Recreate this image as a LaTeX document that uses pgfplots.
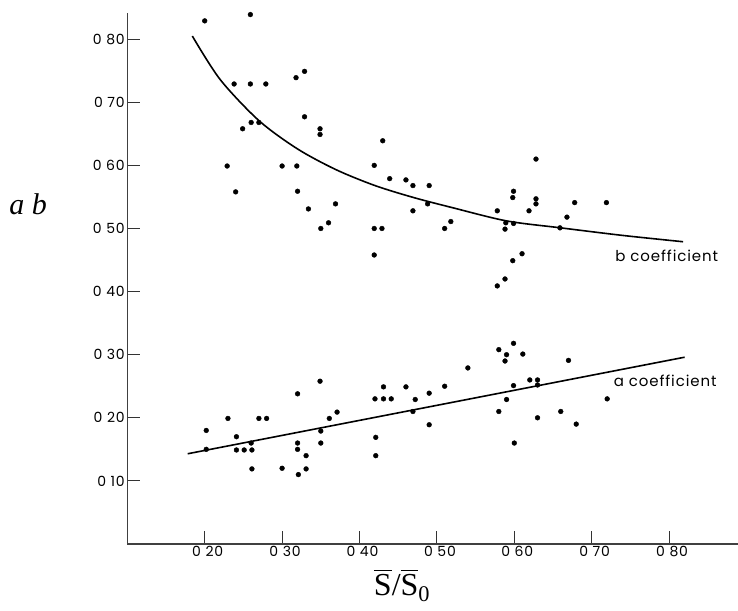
\documentclass[border=0pt]{standalone}
\usepackage{amsmath}
\usepackage{fontspec}
\setmainfont{Liberation Serif}
\newfontfamily\geo[LetterSpace=6]{Poppins}
\usepackage{pgfplots}
\pgfplotsset{compat=1.18}

\begin{document}
\begin{tikzpicture}[x=1pt,y=1pt]

% b coefficient scatter
\pgfplotstableread{
x y
0.200 0.829
0.259 0.839
0.238 0.729
0.259 0.729
0.279 0.729
0.318 0.739
0.329 0.749
0.249 0.658
0.260 0.668
0.270 0.668
0.329 0.677
0.349 0.658
0.349 0.649
0.430 0.639
0.229 0.599
0.300 0.599
0.319 0.599
0.419 0.600
0.240 0.558
0.320 0.559
0.439 0.579
0.460 0.577
0.469 0.568
0.490 0.568
0.334 0.531
0.369 0.539
0.469 0.528
0.488 0.539
0.350 0.500
0.360 0.509
0.419 0.500
0.429 0.500
0.419 0.458
0.628 0.610
0.599 0.559
0.598 0.549
0.628 0.547
0.628 0.539
0.678 0.541
0.719 0.541
0.578 0.528
0.619 0.528
0.668 0.518
0.518 0.511
0.510 0.500
0.589 0.509
0.599 0.508
0.588 0.499
0.659 0.501
0.610 0.460
0.598 0.449
0.588 0.420
0.578 0.409
}\bdata

% a coefficient scatter
\pgfplotstableread{
x y
0.202 0.180
0.202 0.150
0.230 0.199
0.241 0.170
0.241 0.149
0.251 0.149
0.261 0.149
0.260 0.160
0.261 0.119
0.270 0.199
0.280 0.199
0.300 0.120
0.320 0.238
0.320 0.160
0.320 0.150
0.331 0.140
0.321 0.110
0.331 0.119
0.349 0.258
0.350 0.179
0.350 0.160
0.361 0.199
0.371 0.209
0.420 0.230
0.431 0.249
0.431 0.230
0.441 0.230
0.421 0.169
0.421 0.140
0.460 0.249
0.472 0.229
0.469 0.210
0.490 0.239
0.490 0.189
0.510 0.250
0.540 0.279
0.580 0.308
0.599 0.318
0.590 0.300
0.611 0.301
0.588 0.290
0.670 0.291
0.620 0.260
0.630 0.260
0.630 0.252
0.599 0.251
0.590 0.229
0.580 0.210
0.630 0.200
0.660 0.210
0.680 0.190
0.720 0.230
0.600 0.160
}\adata

\begin{axis}[
    at={(0,0)},
    anchor=south west,
    scale only axis,
    width=610.7pt,
    height=530.7pt,
    xmin=0.1, xmax=0.889,
    ymin=0, ymax=0.841,
    axis x line=bottom,
    axis y line=left,
    axis line style={-, black!75, line width=1.3pt},
    tick align=inside,
    major tick length=13pt,
    tick style={black!80, line width=1.1pt},
    xtick={0.2,0.3,0.4,0.5,0.6,0.7,0.8},
    xticklabels={0 20,0 30,0 40,0 50,0 60,0 70,0 80},
    ytick={0.1,0.2,0.3,0.4,0.5,0.6,0.7,0.8},
    yticklabels={0 10,0 20,0 30,0 40,0 50,0 60,0 70,0 80},
    xticklabel style={font=\geo\fontsize{14}{16}\selectfont, xshift=3pt, yshift=1pt},
    yticklabel style={font=\geo\fontsize{14}{16}\selectfont, xshift=1pt},
    clip=false
]

\addplot[only marks, mark=*, mark size=2.4pt, black] table {\bdata};
\addplot[only marks, mark=*, mark size=2.4pt, black] table {\adata};

% fitted b curve
\addplot[black, line width=1.6pt, smooth] coordinates {
    (0.184,0.805) (0.22,0.736) (0.27,0.671) (0.32,0.626) (0.37,0.593)
    (0.42,0.568) (0.47,0.549) (0.52,0.533) (0.59,0.512) (0.66,0.501)
    (0.74,0.489) (0.818,0.479)
};

% fitted a line
\addplot[black, line width=1.6pt] coordinates {
    (0.178,0.143) (0.820,0.296)
};

\node[anchor=west, font=\geo\fontsize{15}{18}\selectfont] at (axis cs:0.726,0.456) {b coefficient};
\node[anchor=west, font=\geo\fontsize{15}{18}\selectfont] at (axis cs:0.724,0.258) {a coefficient};

\node[font=\fontsize{30}{36}\selectfont\itshape] at (axis cs:-0.028,0.538) {a b};
\node[font=\fontsize{32}{38}\selectfont] at (axis cs:0.455,-0.066)
    {$\overline{\text{S}}\text{/}\overline{\text{S}}_{\text{0}}$};

\end{axis}

\pgfresetboundingbox
\path[use as bounding box] (-127.3,-66) rectangle (610.7,544);
\end{tikzpicture}
\end{document}
